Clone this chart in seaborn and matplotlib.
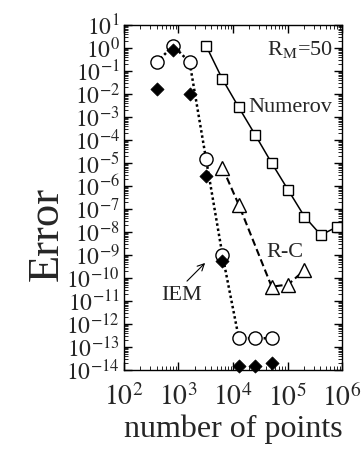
import numpy as np
import pandas as pd
import seaborn as sns
from matplotlib import pyplot as plt
from matplotlib import ticker

# values (log-log axes)
numerov_n = [3200, 6400, 12800, 25600, 51200, 102400, 204800, 409600, 819200]
numerov_err = [1.26, 4.4e-2, 2.6e-3, 1.66e-4, 1.0e-5, 6.8e-7, 4.7e-8, 7.4e-9, 1.7e-8]

iem_n = [400, 800, 1600, 3200, 6400, 12800, 25600, 51200]
iem_err_open = [0.24, 1.26, 0.24, 1.5e-5, 1.0e-9, 2.4e-13, 2.4e-13, 2.4e-13]
iem_err_filled = [1.6e-2, 0.81, 1.0e-2, 2.8e-6, 5.6e-10, 1.55e-14, 1.55e-14, 2.1e-14]

rc_n = [6400, 12800, 51200, 102400, 204800]
rc_err = [6.3e-6, 1.5e-7, 4.2e-11, 5.2e-11, 2.2e-10]

y_exponents = list(range(-14, 2))
x_exponents = list(range(2, 7))

sns.set_theme(style="ticks")
plt.rcParams['font.family'] = ['Liberation Serif', 'DejaVu Serif']
plt.rcParams['mathtext.fontset'] = 'stix'

fig = plt.figure(figsize=(3.62, 4.49), dpi=100)
ax = fig.add_axes([0.3425, 0.1759, 0.6023, 0.7684])
ax.set_xscale('log')
ax.set_yscale('log')

df_num = pd.DataFrame({'n': numerov_n, 'err': numerov_err})
df_iem = pd.DataFrame({'n': iem_n, 'open': iem_err_open, 'filled': iem_err_filled})
df_rc = pd.DataFrame({'n': rc_n, 'err': rc_err})

sns.lineplot(x='n', y='err', data=df_num, ax=ax, color='black', lw=1.1,
             marker='s', markersize=6.5, markerfacecolor='white',
             markeredgecolor='black', markeredgewidth=1.0, sort=False)
sns.lineplot(x='n', y='open', data=df_iem, ax=ax, color='black', lw=1.8,
             linestyle=(0, (1, 1.1)), marker='o', markersize=9.5,
             markerfacecolor='white', markeredgecolor='black',
             markeredgewidth=1.0, sort=False)
sns.lineplot(x='n', y='err', data=df_rc, ax=ax, color='black', lw=1.5,
             linestyle=(0, (3.5, 1.8)), marker='^', markersize=10,
             markerfacecolor='white', markeredgecolor='black',
             markeredgewidth=1.0, sort=False)
sns.scatterplot(x='n', y='filled', data=df_iem, ax=ax, color='black',
                marker='D', s=45, edgecolor='black', linewidth=0.5,
                zorder=5, clip_on=False)

ax.set_xlim(1e2, 1e6)
ax.set_ylim(1e-14, 1e1)

ax.xaxis.set_major_locator(ticker.FixedLocator([10.0 ** e for e in x_exponents]))
ax.xaxis.set_major_formatter(ticker.FixedFormatter([r'$10^{%d}$' % e for e in x_exponents]))
ax.yaxis.set_major_locator(ticker.FixedLocator([10.0 ** e for e in y_exponents]))
ax.yaxis.set_major_formatter(ticker.FixedFormatter([r'$10^{%d}$' % e for e in y_exponents]))
ax.xaxis.set_minor_locator(ticker.LogLocator(base=10, subs=np.arange(2, 10), numticks=50))
ax.yaxis.set_minor_locator(ticker.LogLocator(base=10, subs=np.arange(2, 10), numticks=50))
ax.xaxis.set_minor_formatter(ticker.NullFormatter())
ax.yaxis.set_minor_formatter(ticker.NullFormatter())

ax.tick_params(which='both', direction='in', top=True, right=True, color='black')
ax.tick_params(which='major', length=6, width=1.0)
ax.tick_params(which='minor', length=3, width=0.6)
ax.tick_params(axis='x', labelsize=20, pad=10)
ax.tick_params(axis='y', labelsize=17, pad=3)
for s in ax.spines.values():
    s.set_color('black')
    s.set_linewidth(1.0)

ax.set_xlabel('number of points', fontsize=23, labelpad=2)
ax.set_ylabel('')
fig.text(0.13, 0.478, 'Error', fontsize=32, rotation=90, ha='center', va='center')

ax.text(0.655, 0.928, r'R$_{\mathrm{M}}$=50', transform=ax.transAxes, fontsize=16,
        ha='left', va='center')
ax.text(0.572, 0.762, 'Numerov', transform=ax.transAxes, fontsize=16,
        ha='left', va='center')
ax.text(0.652, 0.342, 'R-C', transform=ax.transAxes, fontsize=16,
        ha='left', va='center')
ax.text(0.17, 0.217, 'IEM', transform=ax.transAxes, fontsize=16,
        ha='left', va='center')
ax.annotate('', xy=(0.381, 0.316), xytext=(0.28, 0.252), xycoords='axes fraction',
            arrowprops=dict(arrowstyle='->', color='black', lw=0.8))

fig.savefig('out.png', dpi=100)
